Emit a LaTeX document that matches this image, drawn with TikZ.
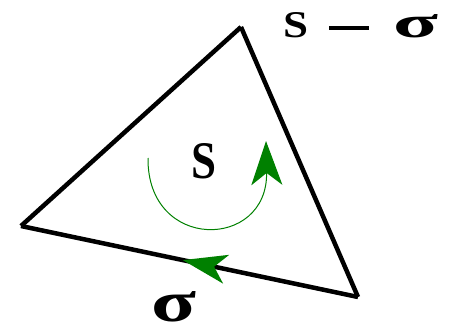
\documentclass[tikz,border=0pt]{standalone}
\usepackage{fontspec}
\setmainfont{Liberation Serif}
\newfontfamily\lblfont{Liberation Serif}
\usetikzlibrary{arrows.meta,decorations.markings}
\definecolor{fgreen}{RGB}{0,128,0}

\begin{document}
\begin{tikzpicture}[
  x=1pt,y=-1pt,
  edge/.style={line width=4.5pt,line join=miter},
  flow/.style={fgreen,line width=1pt,-{Stealth[length=44pt,width=31pt,inset=12pt]}},
  mid/.style={postaction={decorate},decoration={markings,
      mark=at position 0.52 with {\arrow[fgreen]{Stealth[length=44pt,width=29pt,inset=12pt]}}}},
  lbl/.style={inner sep=0pt,anchor=base west,font=\lblfont\bfseries},
  ]
  \useasboundingbox (0,0) rectangle (454,334);
  \coordinate (top)   at (241,27);
  \coordinate (left)  at (21,226);
  \coordinate (right) at (358,297);
  \coordinate (c1)    at (148,158);
  \coordinate (c2)    at (266,141);
  \draw[edge] (top) -- (left);
  \draw[edge] (top) -- (right);
  \draw[edge,mid] (right) -- (left);
  \draw[flow] (c1) .. controls (147,252) and (268,250) .. (c2);
  \node[lbl] (s) at (191,178) {\resizebox{25pt}{35pt}{S}};
  \node[lbl] (sig) at (151,321) {\resizebox{45pt}{30pt}{σ}};
  \node[lbl] (bd) at (283,38) {\resizebox{25pt}{25pt}{S}\hspace{21pt}\rule[7.5pt]{40pt}{4pt}\hspace{24pt}\resizebox{45pt}{23pt}{σ}};
\end{tikzpicture}
\end{document}
